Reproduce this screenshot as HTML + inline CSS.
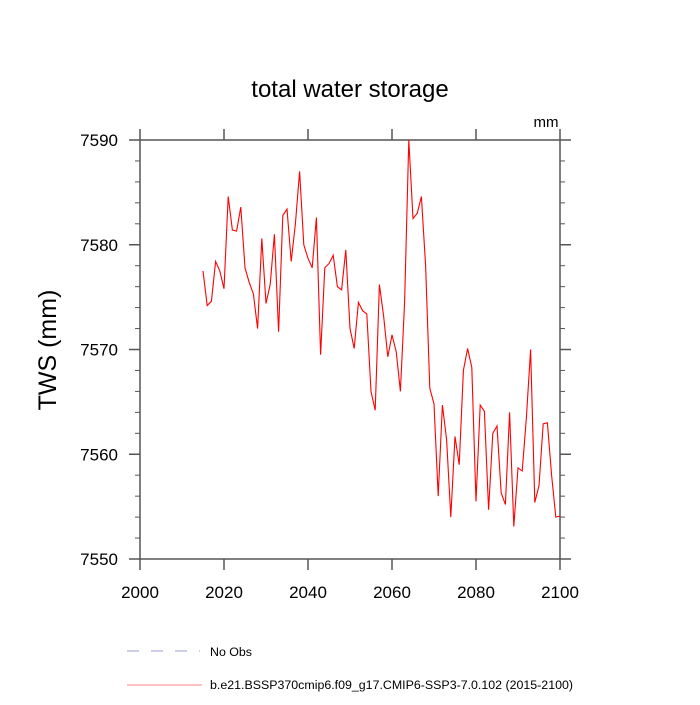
<!DOCTYPE html>
<html><head><meta charset="utf-8"><style>
body{margin:0;background:#fff}
svg text{font-family:"Liberation Sans",sans-serif}
</style></head><body>
<svg width="700" height="700" viewBox="0 0 700 700">
<text x="350" y="97" font-size="24" text-anchor="middle">total water storage</text>
<text x="546" y="127" font-size="15" text-anchor="middle">mm</text>
<text transform="translate(56,350) rotate(-90)" font-size="25" text-anchor="middle">TWS  (mm)</text>
<g id="axes"></g>
<polyline id="series" fill="none" stroke="#ff0000" stroke-width="1.1"/>
<line x1="127" y1="651" x2="200" y2="651" stroke="#9a9ad8" stroke-width="1" stroke-dasharray="12,12"/>
<text x="210" y="656" font-size="12.4">No Obs</text>
<line x1="127" y1="685" x2="202" y2="685" stroke="#ff8080" stroke-width="1"/>
<text x="210" y="689" font-size="12.4">b.e21.BSSP370cmip6.f09_g17.CMIP6-SSP3-7.0.102 (2015-2100)</text>
</svg>
<script>
const startYear = 2015;
const twsValues = [7577.5,7574.2,7574.6,7578.4,7577.5,7575.8,7584.6,7581.4,7581.3,7583.6,7577.8,7576.4,7575.3,7572.0,7580.6,7574.4,7576.2,7581.0,7571.7,7582.8,7583.4,7578.4,7582.0,7587.0,7580.0,7578.7,7577.8,7582.6,7569.5,7577.8,7578.2,7579.0,7576.0,7575.7,7579.5,7572.0,7570.1,7574.5,7573.7,7573.4,7566.0,7564.2,7576.2,7573.2,7569.3,7571.4,7569.8,7566.0,7574.5,7590.0,7582.5,7583.0,7584.6,7578.0,7566.3,7564.8,7556.0,7564.7,7561.4,7554.0,7561.7,7559.0,7568.0,7570.1,7568.3,7555.5,7564.7,7564.1,7554.7,7562.0,7562.7,7556.3,7555.2,7564.0,7553.1,7558.7,7558.4,7563.5,7570.0,7555.4,7557.0,7562.9,7563.0,7558.0,7554.0,7554.1];
const xTicks = [2000,2020,2040,2060,2080,2100];
const yTicks = [7550,7560,7570,7580,7590];
const yMinor = [7552,7554,7556,7558,7562,7564,7566,7568,7572,7574,7576,7578,7582,7584,7586,7588];
const L=140,R=560,T=140,B=559;
const xs=v=>L+(v-2000)/100*(R-L);
const ys=v=>B-(v-7550)/40*(B-T);
const NS='http://www.w3.org/2000/svg';
const g=document.getElementById('axes');
function ln(x1,y1,x2,y2,w,name){const e=document.createElementNS(NS,'line');e.setAttribute('x1',x1);e.setAttribute('y1',y1);e.setAttribute('x2',x2);e.setAttribute('y2',y2);e.setAttribute('stroke','#555');e.setAttribute('stroke-width',w);


g.appendChild(e);}
function tx(x,y,s,anchor,name){const e=document.createElementNS(NS,'text');e.setAttribute('x',x);e.setAttribute('y',y);e.setAttribute('font-size','17');e.setAttribute('text-anchor',anchor);e.textContent=s;


g.appendChild(e);}
const fr=document.createElementNS(NS,'rect');fr.setAttribute('x',L);fr.setAttribute('y',T);fr.setAttribute('width',R-L);fr.setAttribute('height',B-T);fr.setAttribute('fill','none');fr.setAttribute('stroke','#555');fr.setAttribute('stroke-width','1.5');


g.appendChild(fr);
xTicks.forEach(v=>{const x=xs(v);ln(x,B,x,B+11,1.5,'x-tick');ln(x,T,x,T-11,1.5,'x-tick-top');tx(x,B+39,String(v),'middle','x-tick-label');});
yTicks.forEach(v=>{const y=ys(v);ln(L,y,L-11,y,1.5,'y-tick');ln(R,y,R+11,y,1.5,'y-tick-right');tx(L-22,y+6,String(v),'end','y-tick-label');});
yMinor.forEach(v=>{const y=ys(v);ln(L,y,L-5,y,1,'y-minor-tick');ln(R,y,R+5,y,1,'y-minor-tick-right');});
document.getElementById('series').setAttribute('points',twsValues.map((v,i)=>xs(startYear+i)+','+ys(v)).join(' '));
</script>
</body></html>
